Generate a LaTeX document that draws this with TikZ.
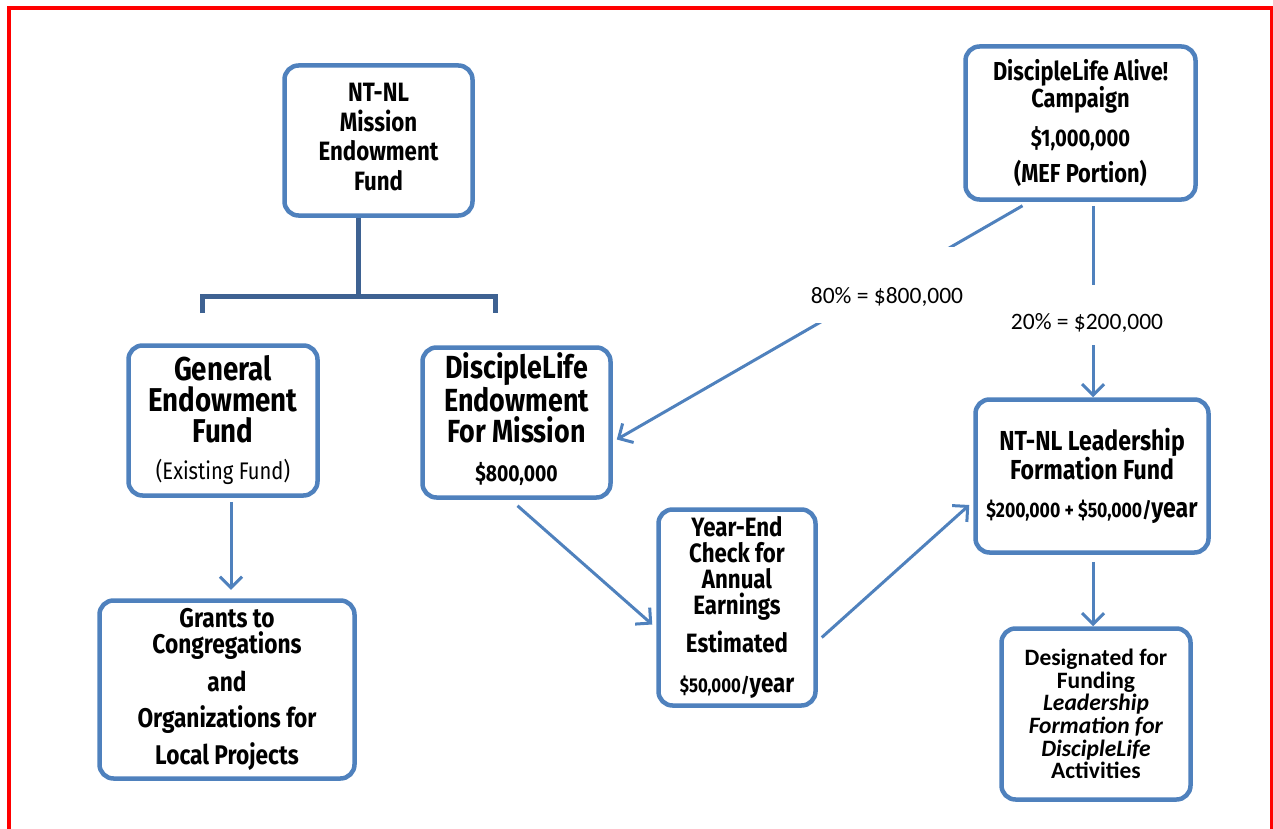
\documentclass[tikz,border=0pt]{standalone}
\usepackage{fontspec}
\setmainfont{Fira Sans}
\newfontfamily\bx{Fira Sans}[FakeStretch=0.84]
\newfontfamily\lblfont{Carlito}
\usetikzlibrary{arrows.meta,calc}
\definecolor{boxblue}{RGB}{79,129,189}
\definecolor{treeblue}{RGB}{62,98,146}
\newcommand{\fsz}[2]{\fontsize{#1}{#2}\selectfont}
\begin{document}
\begin{tikzpicture}[x=1pt,y=-1pt,
  box/.style={draw=boxblue, line width=4.5pt, rounded corners=14pt, fill=white,
    align=center, inner sep=0pt},
  conn/.style={draw=boxblue, line width=3pt, -{Straight Barb[length=11pt,width=22pt]}},
  tree/.style={draw=treeblue, line width=5pt},
  pct/.style={fill=white, inner sep=0pt, align=center, font=\lblfont\fsz{23.5}{24}}]
\useasboundingbox (0,0) rectangle (1273,829);
\draw[red, line width=4pt] (9,829) -- (9,8) -- (1271.5,8) -- (1271.5,829);

% boxes
\node[box, minimum width=188pt, minimum height=150pt, font=\bx\bfseries\fsz{26.5}{29.5}] (mission) at (378.5,140.5)
  {NT-NL\\Mission\\Endowment\\Fund\rule[-7pt]{0pt}{1pt}};
\node[box, minimum width=230pt, minimum height=153pt, font=\bx\bfseries\fsz{26}{27}] (campaign) at (1080.5,123)
  {DiscipleLife Alive!\\Campaign\\[12pt]
   {\fsz{24}{27}\$1,000,000}\\[9pt](MEF Portion)};
\node[box, minimum width=189pt, minimum height=150pt, font=\bx\bfseries\fsz{33}{31}] (general) at (223,420.5)
  {General\\Endowment\\Fund\\[6pt]
   {\mdseries\fsz{24}{31}(Existing Fund)}};
\node[box, minimum width=188pt, minimum height=150pt, font=\bx\bfseries\fsz{32}{31}] (dlefm) at (516.5,422.5)
  {DiscipleLife\\Endowment\\For Mission\\[8pt]
   {\fsz{23}{31}\$800,000\rule[-11pt]{0pt}{1pt}}};
\node[box, minimum width=157pt, minimum height=196pt, font=\bx\bfseries\fsz{26.5}{26}] (yearend) at (737,607.5)
  {Year-End\\Check for\\Annual\\Earnings\\[9pt]
   Estimated\\[14pt]{\fsz{20}{26}\$50,000/}year};
\node[box, minimum width=233pt, minimum height=153pt, font=\bx\bfseries\fsz{27.5}{25}] (leader) at (1092,476)
  {NT-NL Leadership\\Formation Fund\\[13pt]
   {\fsz{21}{25}\$200,000 + \$50,000/}year};
\node[box, minimum width=189pt, minimum height=171pt, font=\lblfont\bfseries\fsz{23.5}{22.6}] (desig) at (1096,714)
  {Designated for\\Funding\\\textit{Leadership}\\
   \textit{Formation for}\\\textit{DiscipleLife}\\Activities};
\node[box, minimum width=255pt, minimum height=178pt, font=\bx\bfseries\fsz{27}{26}] (grants) at (227,689.5)
  {Grants to\\Congregations\\[10pt]and\\[10pt]
   Organizations for\\[8pt]Local Projects};

% tree connector
\coordinate (jn) at (358,296);
\coordinate (lft) at (202,313);
\coordinate (rgt) at (495,313);
\draw[tree] (mission.south -| jn) -- (jn);
\draw[tree] (lft) -- (lft |- jn) -- (rgt |- jn) -- (rgt);

% arrows
\draw[conn] ($(general.south)+(8,4)$) -- ($(general.south)+(8,92)$);
\draw[conn] ($(campaign.south)+(-58,4)$) -- ($(dlefm.east)+(4,17)$);
\draw[conn] ($(campaign.south)+(12.5,4)$) -- (leader.north -| 1093,0);
\draw[conn] ($(dlefm.south)+(1,6)$) -- ($(yearend.west)+(-4,17)$);
\draw[conn] ($(yearend.east)+(4,30)$) -- ($(leader.west)+(-4,29)$);
\draw[conn] ($(leader.south)+(1,7)$) -- (desig.north -| 1093,0);

% labels
\node[pct, text height=56pt, text depth=20pt, minimum width=170pt] (l80) at (887,285) {80\% = \$800,000};
\node[pct, text height=44pt, text depth=16pt, minimum width=160pt] (l20) at (1087,315) {20\% = \$200,000};
\end{tikzpicture}
\end{document}
